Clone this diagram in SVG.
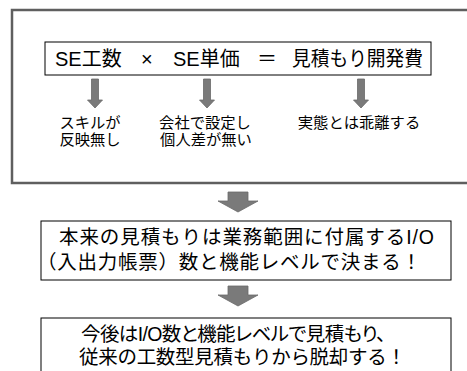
<svg xmlns="http://www.w3.org/2000/svg" width="467" height="371" viewBox="0 0 467 371">
<style>
text{font-family:"Liberation Sans","Noto Sans CJK JP",sans-serif;fill:#000}
.eq{font-size:20px}
.lb{font-size:15.3px;text-anchor:middle}
.bx{font-size:19.5px}
.p{font-feature-settings:"palt"}
.box{fill:#fff;stroke:#000;stroke-width:1}
.arr{fill:#7a7a7a;stroke:#6a6a6a;stroke-width:0.8}
</style>
<rect width="467" height="371" fill="#fff"/>
<g id="outer">
<rect x="12" y="10" width="470" height="173" fill="none" stroke="#5f5f5f" stroke-width="2.5"/>
</g>
<g id="equation">
<rect class="box" x="45" y="42" width="386" height="33"/>
<text class="eq" x="55" y="66">SE工数</text>
<text class="eq" x="141" y="66">×</text>
<text class="eq" x="173" y="66">SE単価</text>
<text class="eq" x="257" y="66">＝</text>
<text class="eq" x="292" y="66" textLength="131" lengthAdjust="spacingAndGlyphs">見積もり開発費</text>
</g>
<g id="label1">
<text class="lb" x="90" y="128">スキルが</text>
<text class="lb" x="90" y="145">反映無し</text>
</g>
<g id="label2">
<text class="lb" x="205" y="128">会社で設定し</text>
<text class="lb" x="206" y="145">個人差が無い</text>
</g>
<g id="label3">
<text class="lb" x="359" y="128">実態とは乖離する</text>
</g>
<g id="box2">
<rect class="box" x="41" y="221" width="410" height="59"/>
<text class="bx" x="59" y="244" textLength="375" lengthAdjust="spacing">本来の見積もりは業務範囲に付属するI/O</text>
<text class="bx" x="37" y="269" textLength="384" lengthAdjust="spacing">（入出力帳票）数と機能レベルで決まる！</text>
</g>
<g id="box3">
<rect class="box" x="41" y="318" width="410" height="60"/>
<text class="bx p" x="81" y="341" textLength="305" lengthAdjust="spacing">今後はI/O数と機能レベルで見積もり、</text>
<text class="bx" x="79" y="364" textLength="327" lengthAdjust="spacing">従来の工数型見積もりから脱却する！</text>
</g>
<g id="connectors">
<path class="arr" d="M91.5 79h7v21h4l-7.5 8l-7.5-8h4z"/>
<path class="arr" d="M203.5 79h7v21h4l-7.5 8l-7.5-8h4z"/>
<path class="arr" d="M357.5 79h7v21h4l-7.5 8l-7.5-8h4z"/>
<path class="arr" d="M228 192h20v9h10l-20 11l-20-11h10z"/>
<path class="arr" d="M228 286h20v9h10l-20 11l-20-11h10z"/>
</g>
</svg>
